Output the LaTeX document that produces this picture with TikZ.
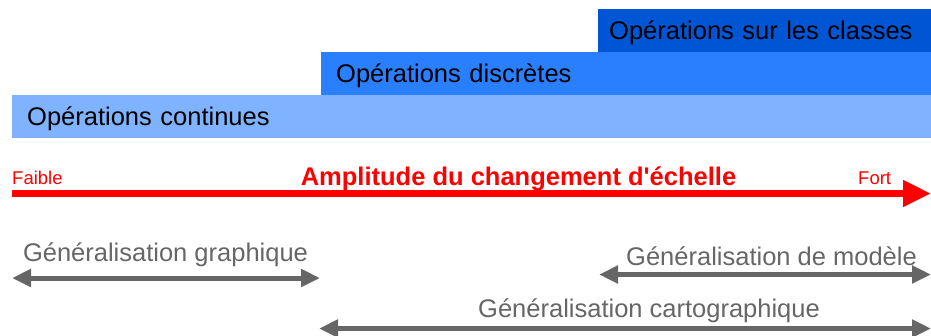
\documentclass[tikz,border=0pt]{standalone}
\usepackage{fontspec}
\newfontfamily\arialfont{Liberation Sans}
\usetikzlibrary{arrows.meta,positioning}
\definecolor{classblue}{HTML}{0055D4}
\definecolor{discblue}{HTML}{2A7FFF}
\definecolor{contblue}{HTML}{80B3FF}
\definecolor{gengray}{HTML}{666666}

\begin{document}
\begin{tikzpicture}[x=1pt,y=-1pt,
  band/.style={anchor=north west,inner xsep=15pt,inner ysep=0pt,minimum height=43pt,
    text height=18.5pt,text depth=0pt,align=left,font=\arialfont\fontsize{25.5}{30}\selectfont},
  redlabel/.style={red,inner sep=0pt,font=\arialfont\fontsize{18.5}{22}\selectfont},
  genlabel/.style={gengray,inner sep=0pt,font=\arialfont\fontsize{25.5}{30}\selectfont},
  redarrow/.style={red,line width=7pt,-{Triangle[length=28pt,width=25pt]}},
  genarrow/.style={gengray,line width=5pt,
    {Triangle[length=19pt,width=17pt]}-{Triangle[length=19pt,width=17pt]}}]
\useasboundingbox (0,0) rectangle (931,335);

% bandes des operations
\node[band,fill=contblue,text width=889pt] (continues) at (12,95) {Opérations continues};
\node[band,fill=discblue,text width=580pt] (discretes) at (321,52) {Opérations discrètes};
\node[band,fill=classblue,inner xsep=11pt,text width=311pt] (classes) at (598,9) {Opérations sur les classes};

% axe du changement d'echelle
\coordinate (faibleend) at (12,193.5);
\coordinate (fortend) at (931,193.5);
\draw[redarrow] (faibleend) -- (fortend);
\node[redlabel,anchor=base west] (faible) at (12,184) {Faible};
\node[redlabel,anchor=base west] (fort) at (858,184) {Fort};
\node[redlabel,anchor=base,font=\arialfont\bfseries\fontsize{25.5}{30}\selectfont] (amplitude) at (518.5,185)
  {Amplitude du changement d'échelle};

% types de generalisation
\coordinate (graphL) at (12,278);
\coordinate (graphR) at (320,278);
\coordinate (modelL) at (599,274.5);
\coordinate (modelR) at (931,274.5);
\coordinate (cartoL) at (319,328.5);
\coordinate (cartoR) at (931,328.5);
\draw[genarrow] (graphL) -- (graphR);
\draw[genarrow] (modelL) -- (modelR);
\draw[genarrow] (cartoL) -- (cartoR);
\node[genlabel,anchor=base] (graph) at (165.5,261) {Généralisation graphique};
\node[genlabel,anchor=base west] (model) at (626,265) {Généralisation de modèle};
\node[genlabel,anchor=base west] (carto) at (478,317) {Généralisation cartographique};
\end{tikzpicture}
\end{document}
